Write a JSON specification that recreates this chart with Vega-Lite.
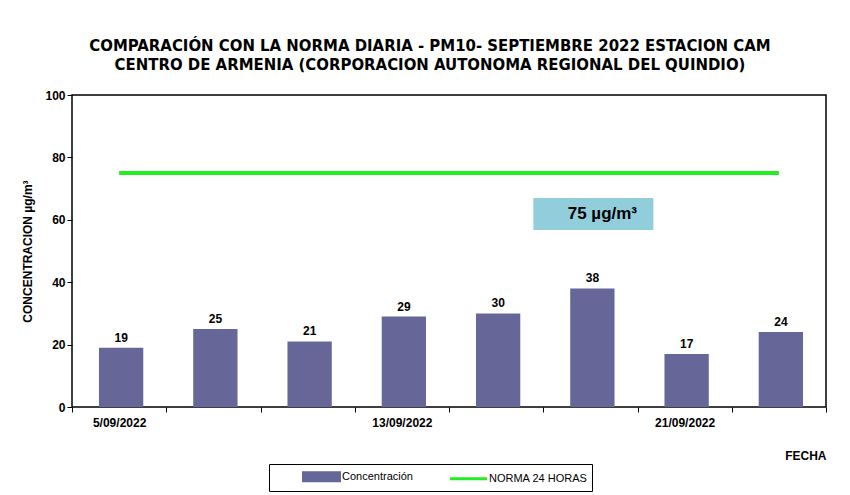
{
  "$schema": "https://vega.github.io/schema/vega-lite/v6.json",
  "autosize": {"type": "none"},
  "width": 754,
  "height": 312,
  "padding": {"left": 72, "top": 95, "right": 24, "bottom": 88},
  "background": "white",
  "title": {
    "text": ["COMPARACIÓN CON LA NORMA DIARIA - PM10- SEPTIEMBRE 2022 ESTACION CAM", "CENTRO DE ARMENIA (CORPORACION AUTONOMA REGIONAL DEL QUINDIO)"],
    "font": "DejaVu Sans Condensed",
    "fontSize": 16.6,
    "fontWeight": "bold",
    "color": "black",
    "anchor": "middle",
    "frame": "group",
    "dx": -19,
    "offset": 15,
    "lineHeight": 19
  },
  "config": {
    "view": {"stroke": "black", "strokeWidth": 1.5},
    "axis": {"labelFont": "Liberation Sans", "titleFont": "Liberation Sans", "labelColor": "black", "titleColor": "black", "tickColor": "black", "domainColor": "black"}
  },
  "data": {
    "values": [
      {"fecha": "5/09/2022", "conc": 19, "norma": 75},
      {"fecha": "7/09/2022", "conc": 25, "norma": 75},
      {"fecha": "10/09/2022", "conc": 21, "norma": 75},
      {"fecha": "13/09/2022", "conc": 29, "norma": 75},
      {"fecha": "15/09/2022", "conc": 30, "norma": 75},
      {"fecha": "18/09/2022", "conc": 38, "norma": 75},
      {"fecha": "21/09/2022", "conc": 17, "norma": 75},
      {"fecha": "24/09/2022", "conc": 24, "norma": 75}
    ]
  },
  "encoding": {
    "x": {
      "field": "fecha",
      "type": "ordinal",
      "sort": null,
      "scale": {"paddingInner": 0, "paddingOuter": 0},
      "axis": {
        "title": "FECHA",
        "titleAnchor": "end",
        "titleAlign": "right",
        "titleFontSize": 12,
        "titleFontWeight": "bold",
        "titlePadding": 22,
        "labelAngle": 0,
        "labelFontSize": 12,
        "labelFontWeight": "bold",
        "labelPadding": 5,
        "tickBand": "extent",
        "tickSize": 5,
        "domain": false,
        "labelExpr": "indexof(['5/09/2022','13/09/2022','21/09/2022'], datum.value) >= 0 ? datum.value : ''"
      }
    }
  },
  "layer": [
    {
      "mark": {"type": "bar", "width": {"band": 0.47}, "xOffset": 2},
      "encoding": {
        "y": {
          "field": "conc",
          "type": "quantitative",
          "scale": {"domain": [0, 100]},
          "axis": {
            "title": "CONCENTRACION µg/m³",
            "titleFontSize": 12,
            "titleFontWeight": "bold",
            "titlePadding": 10,
            "values": [0, 20, 40, 60, 80, 100],
            "labelFontSize": 12,
            "labelFontWeight": "bold",
            "tickSize": 5,
            "grid": false,
            "domain": false
          }
        },
        "color": {
          "datum": "Concentración",
          "type": "nominal",
          "scale": {"domain": ["Concentración", "NORMA 24 HORAS"], "range": ["#666699", "#22ee22"]},
          "legend": {
            "title": null,
            "orient": "none",
            "legendX": 197,
            "legendY": 369,
            "direction": "horizontal",
            "columns": 2,
            "columnPadding": 7,
            "strokeColor": "black",
            "padding": 4,
            "symbolOffset": 40,
            "labelFont": "Liberation Sans",
            "labelFontSize": 11,
            "labelColor": "black",
            "symbolSize": 196,
            "labelOffset": 12,
            "labelExpr": "datum.label === 'NORMA 24 HORAS' ? datum.label + '                ' : datum.label",
            "encode": {
              "symbols": {
                "update": {
                  "shape": {"signal": "datum.value === 'Concentración' ? 'M-2.57,-0.57H2.57V0.57H-2.57Z' : 'M-2.64,0H2.64'"},
                  "fill": {"signal": "datum.value === 'Concentración' ? '#666699' : 'transparent'"},
                  "stroke": {"signal": "datum.value === 'Concentración' ? 'transparent' : '#22ee22'"},
                  "strokeWidth": {"value": 3},
                  "opacity": {"value": 1},
                  "fillOpacity": {"value": 1}
                }
              }
            }
          }
        }
      }
    },
    {
      "mark": {"type": "text", "dy": -10, "xOffset": 2, "fontSize": 12, "fontWeight": "bold", "font": "Liberation Sans", "color": "black"},
      "encoding": {
        "y": {"field": "conc", "type": "quantitative"},
        "text": {"field": "conc", "type": "quantitative"}
      }
    },
    {
      "mark": {"type": "line", "strokeWidth": 4},
      "encoding": {
        "y": {"field": "norma", "type": "quantitative"},
        "color": {"datum": "NORMA 24 HORAS", "type": "nominal"}
      }
    },
    {
      "data": {"values": [{"fecha": "18/09/2022", "y1": 56.7, "y2": 67, "ym": 62, "label": "75 µg/m³"}]},
      "layer": [
        {
          "mark": {"type": "bar", "width": 120, "fill": "#92cddc", "xOffset": 3},
          "encoding": {
            "y": {"field": "y1", "type": "quantitative"},
            "y2": {"field": "y2"}
          }
        },
        {
          "mark": {"type": "text", "dx": 12, "baseline": "middle", "fontSize": 17, "fontWeight": "bold", "font": "Liberation Sans", "color": "black"},
          "encoding": {
            "y": {"field": "ym", "type": "quantitative"},
            "text": {"field": "label"}
          }
        }
      ]
    }
  ]
}
